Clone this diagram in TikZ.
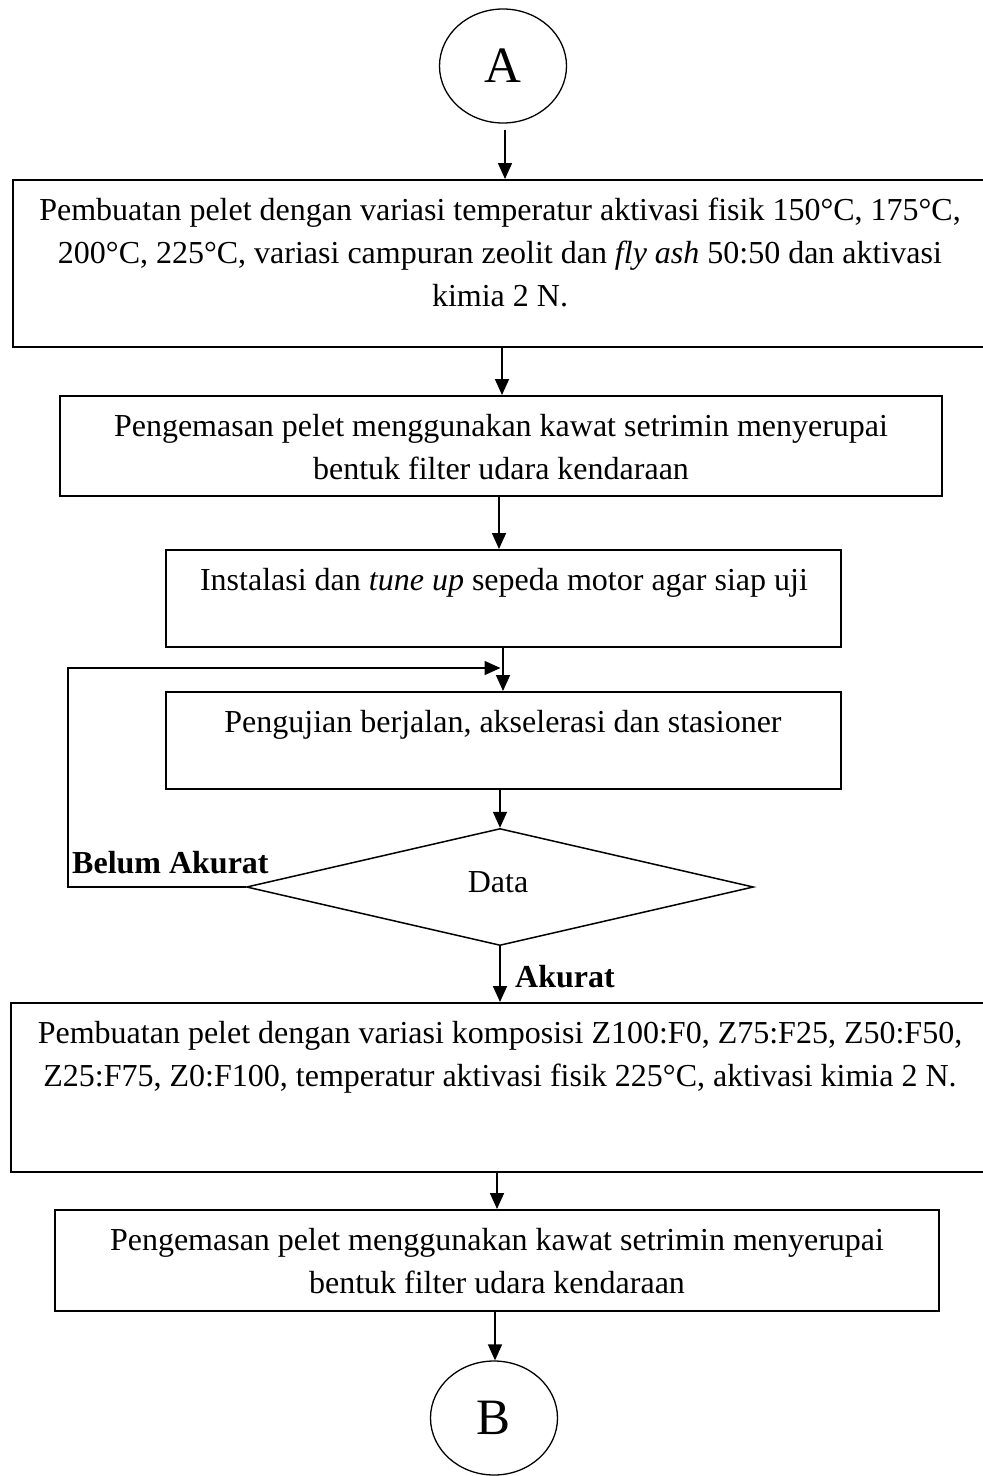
\documentclass[tikz,border=0pt]{standalone}
\usepackage{fontspec}
\setmainfont{Liberation Serif}
\usetikzlibrary{arrows.meta,shapes.geometric}
\newcommand\mylines[1]{\begin{tabular}[t]{@{}c@{}}#1\end{tabular}}
\begin{document}
\begin{tikzpicture}[x=1pt,y=-1pt,
  procbox/.style={draw, rectangle, line width=2pt, inner sep=0pt},
  term/.style={draw, ellipse, line width=1.3pt, inner sep=0pt, minimum width=127pt, minimum height=114pt, font=\fontsize{51}{51}\selectfont},
  conn/.style={line width=1.6pt, -{Triangle[length=16pt,width=14pt]}},
  loopline/.style={line width=1.5pt, -{Triangle[length=16pt,width=14pt]}},
  txt/.style={font=\fontsize{32}{43}\selectfont, anchor=base, inner sep=0pt},
  lbl/.style={font=\fontsize{32}{38}\selectfont\bfseries, anchor=base west, inner sep=0pt}]
\useasboundingbox (0,0) rectangle (983,1476);

% terminals
\node[term] (A) at (503,66) {A};
\node[term] (B) at (494,1418) {B};

% process boxes
\node[procbox, minimum width=973pt, minimum height=167pt] (b1) at (499.5,263.5) {};
\node[procbox, minimum width=882pt, minimum height=100pt] (b2) at (501,446) {};
\node[procbox, minimum width=675pt, minimum height=97pt] (b3) at (503.5,598.5) {};
\node[procbox, minimum width=675pt, minimum height=97pt] (b4) at (503.5,740.5) {};
\node[draw, diamond, line width=1.5pt, inner sep=0pt, minimum width=507pt, minimum height=117pt] (d) at (500,887) {};
\node[procbox, minimum width=975pt, minimum height=169pt] (b5) at (498.5,1087.5) {};
\node[procbox, minimum width=884pt, minimum height=101pt] (b6) at (497,1260.5) {};

% texts
\node[txt] (t1) at (500,220) {\mylines{Pembuatan pelet dengan variasi temperatur aktivasi fisik 150°C, 175°C,\\200°C, 225°C, variasi campuran zeolit dan \textit{fly ash} 50:50 dan aktivasi\\kimia 2 N.}};
\node[txt] (t2) at (501,436) {\mylines{Pengemasan pelet menggunakan kawat setrimin menyerupai\\bentuk filter udara kendaraan}};
\node[txt] (t3) at (504,590) {Instalasi dan \textit{tune up} sepeda motor agar siap uji};
\node[txt] (t4) at (503,732) {Pengujian berjalan, akselerasi dan stasioner};
\node[txt] (td) at (498,892) {Data};
\node[txt] (t5) at (500,1043) {\mylines{Pembuatan pelet dengan variasi komposisi Z100:F0, Z75:F25, Z50:F50,\\Z25:F75, Z0:F100, temperatur aktivasi fisik 225°C, aktivasi kimia 2 N.}};
\node[txt] (t6) at (497,1250) {\mylines{Pengemasan pelet menggunakan kawat setrimin menyerupai\\bentuk filter udara kendaraan}};

% labels
\node[lbl] (belum) at (72,873) {Belum Akurat};
\node[lbl] (akurat) at (515,987) {Akurat};

% connectors
\draw[conn, shorten <=6pt] ([xshift=2pt]A.south) -- ([xshift=5.5pt]b1.north);
\draw[conn] ([xshift=2.5pt]b1.south) -- ([xshift=1pt]b2.north);
\draw[conn] ([xshift=-2pt]b2.south) -- ([xshift=-4.5pt]b3.north);
\draw[conn] ([xshift=-0.5pt]b3.south) -- ([xshift=-0.5pt]b4.north);
\draw[conn] ([xshift=-3.5pt]b4.south) -- (d.north);
\draw[conn] (d.south) -- ([xshift=1.5pt]b5.north);
\draw[conn] ([xshift=-1.5pt]b5.south) -- (b6.north);
\draw[conn] ([xshift=-2pt]b6.south) -- ([xshift=1pt]B.north);

% feedback loop
\coordinate (lp) at (68,668);
\coordinate (lpend) at (500.5,668);
\draw[loopline] (d.west) -| (lp) -- (lpend);
\end{tikzpicture}
\end{document}
